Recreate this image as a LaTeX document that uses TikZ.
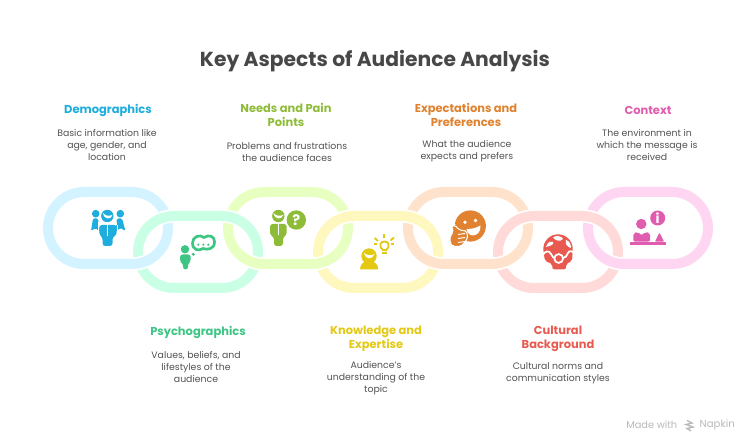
\documentclass[tikz,border=0pt]{standalone}
\usepackage{fontspec}
\setmainfont{Poppins}
\definecolor{cdemo}{HTML}{1EADDC}
\definecolor{cpsy}{HTML}{3DC584}
\definecolor{cneed}{HTML}{8FBC38}
\definecolor{cknow}{HTML}{E3C913}
\definecolor{cexp}{HTML}{E0822F}
\definecolor{ccult}{HTML}{E85A50}
\definecolor{ccon}{HTML}{E05CAE}
\definecolor{ldemo}{HTML}{D2F3FF}
\definecolor{lpsy}{HTML}{C9FFE5}
\definecolor{lneed}{HTML}{E8FFC2}
\definecolor{lknow}{HTML}{FFF8BE}
\definecolor{lexp}{HTML}{FFE2CC}
\definecolor{lcult}{HTML}{FFDAD8}
\definecolor{lcon}{HTML}{FFD6F1}
\tikzset{t/.style={font=\fontsize{15.2}{18}\selectfont\bfseries, text=black!72}}
\tikzset{l/.style={font=\fontsize{8.6}{10.5}\selectfont\bfseries, align=center}}
\tikzset{m/.style={font=\fontsize{7}{9}\selectfont, text=black!68, align=center}}
\tikzset{link/.style={line width=7.5pt, rounded corners=27pt}}
\tikzset{gap/.style={line width=10pt, rounded corners=27pt, white}}

\begin{document}
\begin{tikzpicture}[x=.75pt, y=-.75pt]
  \useasboundingbox (0,0) rectangle (750,445);
  \foreach \a/\b/\c in {48/192/ldemo, 228/192/lneed, 408/192/lexp, 588/192/lcon}
    \draw[link, \c] (\a,\b) rectangle ++(120,72);
  \foreach \a/\b/\c in {138/216/lpsy, 318/216/lknow, 498/216/lcult} {
    \draw[gap] (\a,\b) rectangle ++(120,72);
    \draw[link, \c] (\a,\b) rectangle ++(120,72);
  }
  \begin{scope}
    \clip (0,240) rectangle (750,300);
    \foreach \a/\b/\c in {48/192/ldemo, 228/192/lneed, 408/192/lexp, 588/192/lcon} {
      \draw[gap] (\a,\b) rectangle ++(120,72);
      \draw[link, \c] (\a,\b) rectangle ++(120,72);
    }
  \end{scope}

  \node[t] (title) at (375,61) {Key Aspects of Audience Analysis};

  \node[l, text=cdemo] (demohead) at (108,110.5) {Demographics};
  \node[m] (demotext) at (107,145) {Basic information like\\age, gender, and\\location};
  \node[l, text=cneed] (needhead) at (286,115) {Needs and Pain\\Points};
  \node[m] (needtext) at (287,151.5) {Problems and frustrations\\the audience faces};
  \node[l, text=cexp] (exphead) at (466,115) {Expectations and\\Preferences};
  \node[m] (exptext) at (467,151.5) {What the audience\\expects and prefers};
  \node[l, text=ccon] (conhead) at (648,110.5) {Context};
  \node[m] (context) at (647,145) {The environment in\\which the message is\\received};
  \node[l, text=cpsy] (psyhead) at (198,332.5) {Psychographics};
  \node[m] (psytext) at (196,367) {Values, beliefs, and\\lifestyles of the\\audience};
  \node[l, text=cknow] (knowhead) at (376,338.5) {Knowledge and\\Expertise};
  \node[m] (knowtext) at (376,378.5) {Audience's\\understanding of the\\topic};
  \node[l, text=ccult] (culthead) at (558,338.5) {Cultural\\Background};
  \node[m] (culttext) at (558,373) {Cultural norms and\\communication styles};

  \begin{scope}[cdemo]
    \fill (107.3,216) circle (6.2);
    \fill (95.7,213.7) circle (3.8);
    \fill (120.3,213.7) circle (3.8);
    \fill[rounded corners=1pt] (93,218.5)--(98,218.5)--(100,232)--(95.5,228)--(91,231)--cycle;
    \fill[rounded corners=1pt] (117,218.5)--(122,218.5)--(125.5,231)--(120.5,228)--(115,232)--cycle;
    \fill[white] (98,222.5) rectangle (117,225);
    \fill[white] (98,225) rectangle (99.3,236);
    \fill[white] (116.7,225) rectangle (118,236);
    \fill[rounded corners=2pt] (102.5,246)--(102.5,237)--(99.3,235)--(99.3,225)--(116.7,225)--(116.7,235)--(112.5,237)--(112.5,246)--cycle;
    \fill[white] (106.5,225) rectangle (108.3,236);
    \fill[white] (103,213) .. controls (104,220) and (111,220) .. (112.5,215) .. controls (108,216.5) and (106,216) .. (103,213);
  \end{scope}

  \begin{scope}[cpsy]
    \fill (185,249.3) circle (4.2);
    \fill[rounded corners=2pt] (183,269.5)--(183,263)--(180,262)--(180,254.5)--(190.7,254.5)--(190.7,262)--(188,263)--(188,269.5)--cycle;
    \fill (193.3,254.3) circle (1.7);
    \draw[line width=2pt] (192.5,243) .. controls (192.5,236.5) and (200,234) .. (204,237.5) .. controls (209,234) and (215,236.5) .. (214.5,242) .. controls (214.5,249.5) and (207,250) .. (203,248.5) .. controls (199,251.5) and (192.5,250) .. (192.5,243);
    \fill (198.3,244.7) circle (1.2);
    \fill (203.3,244.7) circle (1.2);
    \fill (208.3,244.7) circle (1.2);
  \end{scope}

  \begin{scope}[cneed]
    \fill (278.3,216) circle (6.2);
    \fill[rounded corners=2pt] (274,246)--(274,237)--(270,235)--(270,224)--(286.7,224)--(286.7,235)--(283,237)--(283,246)--cycle;
    \fill[white] (277.6,224) rectangle (279.2,235);
    \fill[white] (273.5,213) .. controls (275,220) and (281,220) .. (283.5,215) .. controls (279,216.5) and (276,216) .. (273.5,213);
    \fill (296.3,220) circle (9.7);
    \node[white, font=\fontsize{11}{11}\selectfont\bfseries] (quest) at (296.3,220) {?};
  \end{scope}

  \begin{scope}[cknow]
    \fill (369,256) circle (7.7);
    \fill (360,269.5) .. controls (360,263) and (365,261) .. (369,261) .. controls (373,261) and (378.3,263) .. (378.3,269.5) -- cycle;
    \fill[white] (364,253) .. controls (366,260) and (372,260) .. (374.5,254) .. controls (371,256) and (367,255.5) .. (364,253);
    \draw[line width=1.4pt] (382.8,250) .. controls (378,245) and (381,241.5) .. (384.5,241.5) .. controls (388,241.5) and (391,245) .. (386.3,250) -- cycle;
    \fill (381.8,252.5) rectangle (387.3,254.3);
    \foreach \a/\b/\c/\d in {374.5/238/378/241, 384.3/234/384.3/238, 394/237.5/390.5/240.5, 394/244/391/244, 374/244/377.3/244}
      \draw[line width=1.4pt] (\a,\b) -- (\c,\d);
  \end{scope}

  \begin{scope}[cexp]
    \fill (470.3,226) circle (15.6);
    \fill[white] (465,222.3) circle (1.9);
    \fill[white] (475.5,220.5) circle (1.9);
    \fill[white] (466.5,229) .. controls (472,229) and (476,228) .. (480.5,225.5) .. controls (481,232) and (477,235.5) .. (472.5,235.5) .. controls (469.5,235.5) and (467,232) .. (466.5,229);
    \fill[draw=white, line width=.8pt, rounded corners=1.5pt] (450,236)--(453.5,232)--(451.5,226)--(455,225)--(459,230)--(467,231)--(467.5,239)--(461,246.5)--(453,246.5)--(450,243)--cycle;
    \foreach \b in {234.5,238.5,242.5}
      \draw[white, line width=.7pt] (458,\b) -- (465,\b-1);
  \end{scope}

  \begin{scope}[ccult]
    \fill (558,249) circle (14.7);
    \fill[rounded corners=1.5pt] (543.5,252)--(572.7,252)--(572,261)--(566,264)--(566,269.3)--(552.3,269.3)--(552.3,264)--(545,261)--cycle;
    \fill[white] (553,237.5) .. controls (556,235) and (562,236) .. (563,239) .. controls (560,242) and (556,241) .. (553,237.5);
    \fill[white] (546,247) .. controls (548,241) and (551,241) .. (553,242) .. controls (555,245) and (549,246) .. (546,247);
    \fill[white] (566,240) .. controls (570,241) and (571,245) .. (571,248) .. controls (567,247) and (565,244) .. (566,240);
    \draw[white, line width=1.3pt] (543,254.7) .. controls (545,251) and (549,250) .. (551,254) .. controls (552,257) and (554,258) .. (555,258);
    \draw[white, line width=1.3pt] (563,258) .. controls (565,258) and (567,256) .. (568,253) .. controls (569,250) and (573,251) .. (575,254);
    \draw[white, line width=1.3pt] (558.7,258.5) circle (4.4);
  \end{scope}

  \begin{scope}[ccon]
    \fill (641.3,224) circle (5.2);
    \fill[rounded corners=1.5pt] (633.3,241.7)--(633.3,233)--(638,232)--(641.5,235.5)--(645,232)--(650,233)--(650,241.7)--cycle;
    \fill (630,242.5) rectangle (665.7,245);
    \fill[rounded corners=.5pt] (655,241.7)--(659.5,232.7)--(664,241.7)--cycle;
    \fill (657.7,218) circle (7.5);
    \node[white, font=\fontsize{10}{10}\selectfont\bfseries] (info) at (657.7,218) {i};
  \end{scope}

  \node[font=\fontsize{7.4}{9}\selectfont, text=black!28, anchor=east] (madewith) at (682,425) {Made with};
  \node[font=\fontsize{7.6}{9}\selectfont, text=black!28, anchor=west] (napkin) at (695,425) {Napkin};
  \draw[black!28, line width=1pt] (687,420.5) -- (692,423) -- (686,424.5) -- (693,427) -- (687,428.5) -- (691,431);
\end{tikzpicture}
\end{document}
